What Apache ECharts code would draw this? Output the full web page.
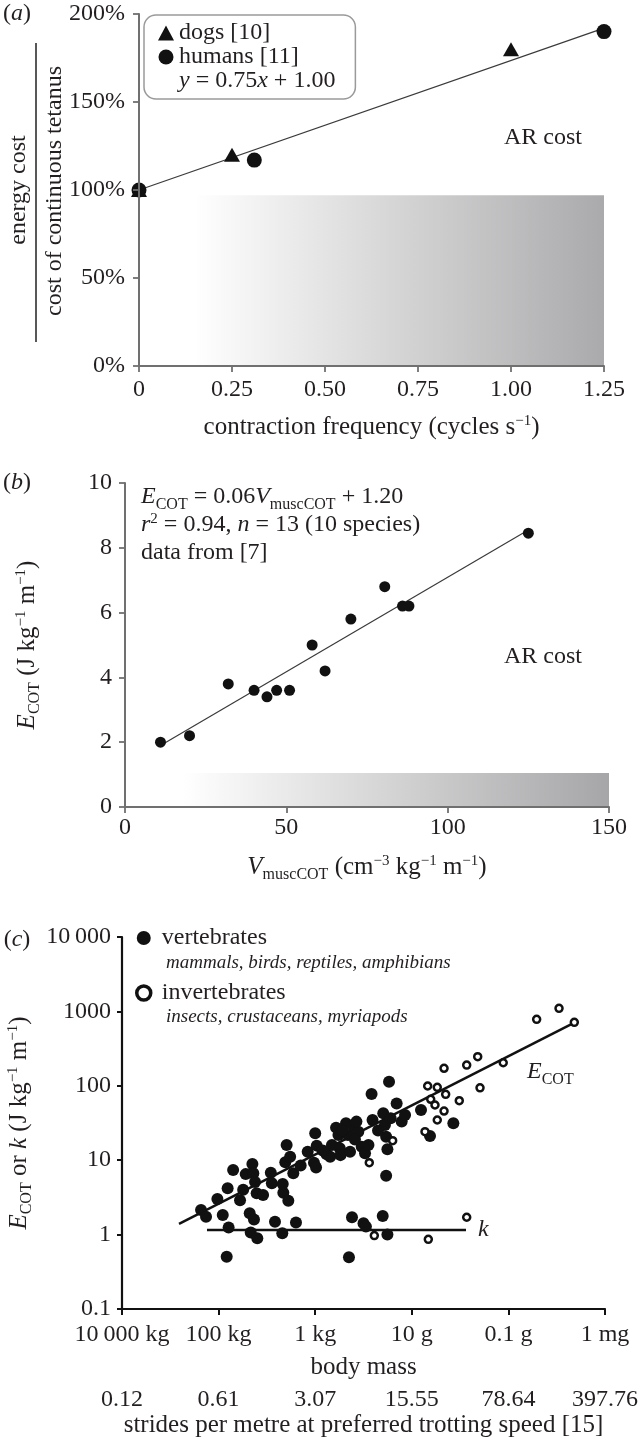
<!DOCTYPE html>
<html><head><meta charset="utf-8">
<script src="https://cdn.jsdelivr.net/npm/echarts@6/dist/echarts.min.js"></script>
<style>html,body{margin:0;padding:0;background:#fff}#chart{width:642px;height:1445px}</style>
</head><body><div id="chart"></div>
<script>
const FONT = 'Liberation Serif';
const INK = '#231f20';

// ---------- Panel (a) ----------
const aXTicks = ['0', '0.25', '0.50', '0.75', '1.00', '1.25'];
const aYTicks = ['0%', '50%', '100%', '150%', '200%'];
const aDogs = [[0, 100], [0.25, 120], [1.00, 180]];
const aHumans = [[0, 100], [0.31, 117], [1.25, 190]];
const aFit = [[0, 100], [1.25, 192]];
const aCrossBridge = [[0, 0, 1.25, 97]];

// ---------- Panel (b) ----------
const bXTicks = ['0', '50', '100', '150'];
const bYTicks = ['0', '2', '4', '6', '8', '10'];
const bPoints = [[11, 2.0], [20, 2.2], [32, 3.8], [40, 3.6], [44, 3.4], [47, 3.6], [51, 3.6],
  [58, 5.0], [62, 4.2], [70, 5.8], [80.5, 6.8], [86, 6.2], [88, 6.2], [125, 8.45]];
const bFit = [[11, 1.9], [125, 8.55]];
const bCrossBridge = [[0, 0, 150, 1.05]];

// ---------- Panel (c) ----------  [body mass (kg), E_COT or k (J kg-1 m-1)]
const cMassTicks = ['10\u2009000 kg', '100 kg', '1 kg', '10 g', '0.1 g', '1 mg'];
const cStrideTicks = ['0.12', '0.61', '3.07', '15.55', '78.64', '397.76'];
const cYTicks = ['0.1', '1', '10', '100', '1000', '10\u2009000'];
const cVertebrates = [
  [231, 2.14], [182, 1.74], [106, 3.0], [82, 1.83], [65, 4.2], [62, 1.25], [50, 7.4], [36, 2.9],
  [27.5, 6.5], [31, 4.0], [22.7, 1.93], [18.5, 1.6], [20, 8.9], [19.1, 6.7], [17.6, 5.1], [16.3, 3.6],
  [21.6, 1.07], [15.8, 0.89], [8.3, 6.8], [7.9, 4.9], [6.8, 1.49], [4.7, 4.8], [4.57, 3.66], [3.6, 2.86],
  [4.8, 1.04], [3.9, 16], [4.16, 9.4], [3.3, 11.1], [2.84, 6.7], [2.5, 1.45], [1.43, 13], [1.0, 23],
  [0.93, 15.7], [1.06, 9.25], [0.96, 8.0], [0.58, 12], [0.49, 11.1], [0.37, 27.4], [0.33, 21.8],
  [0.31, 14.5], [0.30, 11.7], [0.23, 31.3], [0.21, 21.8], [0.19, 13], [0.163, 28.8], [0.128, 24.2],
  [0.109, 15.2], [0.093, 12.4], [0.079, 16], [0.173, 1.71], [0.10, 1.42], [0.089, 1.28], [0.068, 77.6],
  [0.065, 34.7], [0.039, 42.7], [0.036, 29.7], [0.034, 20.7], [0.032, 14], [0.034, 6.2], [0.0296, 113],
  [0.0274, 36.6], [0.04, 1.78], [0.032, 1.0], [0.0206, 58], [0.0162, 33], [0.0138, 40.5],
  [0.00645, 47.3], [0.0042, 21.1], [0.00138, 31.3], [68, 0.505], [0.2, 0.495],
  [0.27, 25], [0.15, 19], [0.45, 16], [0.7, 13.5], [2.0, 8.5], [12, 3.4], [0.05, 25], [0.14, 33]
];
const cInvertebrates = [
  [0.0759, 9.25], [0.0249, 18.3], [0.0597, 0.97], [0.00455, 0.865], [0.00533, 24.2], [0.00469, 99.4],
  [0.00297, 95.5], [0.00406, 65.9], [0.00331, 55.2], [0.00199, 76.9], [0.00215, 45.8], [0.00297, 34.7],
  [0.00104, 63], [0.00215, 172], [0.00073, 190], [0.000432, 246], [0.000387, 94], [0.000128, 204],
  [0.000026, 783], [0.00000895, 1101], [0.00000432, 713], [0.00073, 1.71]
];
const cEcotFit = [[660, 1.39], [0.0000042, 713]];
const cKFit = [[174, 1.15], [0.000755, 1.15]];

// ---------- helpers ----------
function richStyles(colorKey, base) {
  const c = {}; c[colorKey] = INK;
  return {
    i: Object.assign({fontSize: base, fontFamily: FONT, fontStyle: 'italic'}, c),
    sub: Object.assign({fontSize: 16, fontFamily: FONT, padding: [16, 0, 0, 0]}, c),
    sup: Object.assign({fontSize: 15, fontFamily: FONT, padding: [0, 0, 12, 0]}, c),
    it: Object.assign({fontSize: 19, fontFamily: FONT, fontStyle: 'italic'}, c)
  };
}
const RICH = richStyles('color', 24);
const TRICH = richStyles('color', 25);
const GRICH = richStyles('fill', 24);
const titleStyle = {fontSize: 25, fontFamily: FONT, color: INK, rich: TRICH};
const AXIS_GREY = '#707070';

function gText(x, y, text, align, extra) {
  return Object.assign({
    type: 'text', x: x, y: y, silent: true,
    style: {text: text, fill: INK, fontSize: 24, fontFamily: FONT,
      align: align || 'left', verticalAlign: 'middle', rich: GRICH}
  }, extra || {});
}
function gradientRect(stops) {
  return function (params, api) {
    const p0 = api.coord([api.value(0), api.value(1)]);
    const p1 = api.coord([api.value(2), api.value(3)]);
    return {
      type: 'rect',
      shape: {x: p0[0], y: p1[1], width: p1[0] - p0[0], height: p0[1] - p1[1]},
      style: {fill: new echarts.graphic.LinearGradient(0, 0, 1, 0, stops)}
    };
  };
}
function valueAxis(grid, min, max, interval, ticks, color, margin, extra) {
  return Object.assign({
    gridIndex: grid, type: 'value', min: min, max: max, interval: interval,
    axisLine: {show: true, onZero: false, lineStyle: {color: color, width: 2}},
    axisTick: {show: true, length: 6, lineStyle: {color: color, width: 1.8}},
    splitLine: {show: false},
    axisLabel: {fontSize: 24, fontFamily: FONT, color: INK, margin: margin,
      formatter: function (v) { return ticks[Math.round((v - min) / interval)]; }},
    nameLocation: 'middle', nameTextStyle: titleStyle, z: 5
  }, extra);
}
function logIndex(v, base, top) { return Math.round((top - Math.log10(v)) / base); }

const chart = echarts.init(document.getElementById('chart'), null, {renderer: 'canvas'});
chart.setOption({
  animation: false,
  backgroundColor: '#fff',
  textStyle: {fontFamily: FONT},
  grid: [
    {left: 139, top: 14, width: 465, height: 352, outerBoundsMode: 'none'},
    {left: 125, top: 483, width: 484, height: 324, outerBoundsMode: 'none'},
    {left: 122, top: 937, width: 483, height: 372, outerBoundsMode: 'none'}
  ],
  legend: [
    {
      data: [{name: 'dogs [10]', icon: 'triangle'}, {name: 'humans [11]', icon: 'circle'},
        {name: 'aFit', icon: 'rect', itemStyle: {opacity: 0}}],
      orient: 'vertical', left: 144, top: 15, padding: [6, 20, 6, 14], itemGap: 0,
      itemWidth: 16, itemHeight: 15, borderColor: '#9a9a9a', borderWidth: 1.5, borderRadius: 12,
      selectedMode: false,
      textStyle: {fontSize: 24, fontFamily: FONT, color: INK, rich: RICH},
      formatter: function (name) { return name === 'aFit' ? '{i|y} = 0.75{i|x} + 1.00' : name; }
    },
    {
      data: [{name: 'vertebrates', icon: 'circle'},
        {name: 'invertebrates', icon: 'circle', itemStyle: {borderWidth: 3.5}}],
      orient: 'vertical', left: 135, top: 926, padding: 0, itemGap: 31,
      itemWidth: 26, itemHeight: 14, selectedMode: false,
      textStyle: {fontSize: 24, fontFamily: FONT, color: INK}
    }
  ],
  xAxis: [
    valueAxis(0, 0, 1.25, 0.25, aXTicks, AXIS_GREY, 12, {
      name: 'contraction frequency (cycles s{sup|\u22121})', nameGap: 48}),
    valueAxis(1, 0, 150, 50, bXTicks, AXIS_GREY, 9, {
      name: '{i|V}{sub|muscCOT} (cm{sup|\u22123} kg{sup|\u22121} m{sup|\u22121})', nameGap: 44}),
    {
      gridIndex: 2, type: 'log', logBase: 100, min: 1e-6, max: 1e4, inverse: true,
      axisLine: {show: true, onZero: false, lineStyle: {color: '#111', width: 2.2}},
      axisTick: {show: true, length: 6, lineStyle: {color: '#111', width: 2}},
      splitLine: {show: false}, minorTick: {show: false},
      axisLabel: {fontSize: 24, fontFamily: FONT, color: INK, margin: 14,
        formatter: function (v) { return cMassTicks[logIndex(v, 2, 4)]; }},
      name: 'body mass', nameLocation: 'middle', nameGap: 46, nameTextStyle: titleStyle
    },
    {
      gridIndex: 2, type: 'log', logBase: 100, min: 1e-6, max: 1e4, inverse: true,
      position: 'bottom', offset: 65,
      axisLine: {show: false}, axisTick: {show: false}, splitLine: {show: false},
      axisLabel: {fontSize: 24, fontFamily: FONT, color: INK, margin: 14,
        formatter: function (v) { return cStrideTicks[logIndex(v, 2, 4)]; }},
      name: 'strides per metre at preferred trotting speed [15]', nameLocation: 'middle',
      nameGap: 39, nameTextStyle: titleStyle
    }
  ],
  yAxis: [
    valueAxis(0, 0, 200, 50, aYTicks, AXIS_GREY, 14, {}),
    valueAxis(1, 0, 10, 2, bYTicks, AXIS_GREY, 13, {
      name: '{i|E}{sub|COT} (J kg{sup|\u22121} m{sup|\u22121})', nameRotate: 90, nameGap: 82}),
    {
      gridIndex: 2, type: 'log', logBase: 10, min: 0.1, max: 10000,
      axisLine: {show: true, onZero: false, lineStyle: {color: '#111', width: 2.2}},
      axisTick: {show: true, length: 5, lineStyle: {color: '#111', width: 2}},
      splitLine: {show: false}, minorTick: {show: false},
      axisLabel: {fontSize: 24, fontFamily: FONT, color: INK, margin: 11,
        formatter: function (v) { return cYTicks[Math.round(Math.log10(v)) + 1]; }},
      name: '{i|E}{sub|COT} or {i|k} (J kg{sup|\u22121} m{sup|\u22121})', nameLocation: 'middle',
      nameRotate: 90, nameGap: 75, nameTextStyle: titleStyle
    }
  ],
  series: [
    {type: 'custom', xAxisIndex: 0, yAxisIndex: 0, data: aCrossBridge, z: 1, silent: true,
      encode: {x: [0, 2], y: [1, 3]},
      renderItem: gradientRect([{offset: 0, color: '#ffffff'}, {offset: 0.12, color: '#ffffff'},
        {offset: 1, color: '#aaaaac'}])},
    {name: 'aFit', type: 'line', xAxisIndex: 0, yAxisIndex: 0, data: aFit, symbol: 'none', z: 2,
      lineStyle: {color: '#3a3a3a', width: 1.2}, silent: true},
    {name: 'dogs [10]', type: 'scatter', xAxisIndex: 0, yAxisIndex: 0, data: aDogs, z: 4, clip: false,
      symbol: 'triangle', symbolSize: [16, 14], itemStyle: {color: '#111', opacity: 1}},
    {name: 'humans [11]', type: 'scatter', xAxisIndex: 0, yAxisIndex: 0, data: aHumans, z: 3, clip: false,
      symbol: 'circle', symbolSize: 15, itemStyle: {color: '#111', opacity: 1}},

    {type: 'custom', xAxisIndex: 1, yAxisIndex: 1, data: bCrossBridge, z: 1, silent: true,
      encode: {x: [0, 2], y: [1, 3]},
      renderItem: gradientRect([{offset: 0, color: '#ffffff'}, {offset: 0.12, color: '#ffffff'},
        {offset: 1, color: '#a6a6a8'}])},
    {name: 'bFit', type: 'line', xAxisIndex: 1, yAxisIndex: 1, data: bFit, symbol: 'none', z: 2,
      lineStyle: {color: '#3a3a3a', width: 1.2}, silent: true},
    {name: 'bPoints', type: 'scatter', xAxisIndex: 1, yAxisIndex: 1, data: bPoints, z: 3, clip: false,
      symbol: 'circle', symbolSize: 11, itemStyle: {color: '#111', opacity: 1}},

    {name: 'cEcotFit', type: 'line', xAxisIndex: 2, yAxisIndex: 2, data: cEcotFit, symbol: 'none', z: 2,
      lineStyle: {color: '#111', width: 2.5}, silent: true},
    {name: 'cKFit', type: 'line', xAxisIndex: 2, yAxisIndex: 2, data: cKFit, symbol: 'none', z: 2,
      lineStyle: {color: '#111', width: 2.5}, silent: true},
    {name: 'vertebrates', type: 'scatter', xAxisIndex: 2, yAxisIndex: 2, data: cVertebrates, z: 3,
      symbol: 'circle', symbolSize: 12, itemStyle: {color: '#111', opacity: 1}},
    {name: 'invertebrates', type: 'scatter', xAxisIndex: 2, yAxisIndex: 2, data: cInvertebrates, z: 4,
      symbol: 'circle', symbolSize: 7,
      itemStyle: {color: '#fff', borderColor: '#111', borderWidth: 2.5, opacity: 1}}
  ],
  graphic: [
    gText(17, 14, '({i|a})', 'center'),
    gText(17, 483, '({i|b})', 'center'),
    gText(17, 940, '({i|c})', 'center'),
    gText(19, 190, 'energy cost', 'center', {rotation: Math.PI / 2}),
    {type: 'line', silent: true, shape: {x1: 36, y1: 43, x2: 36, y2: 342},
      style: {stroke: INK, lineWidth: 1.5}},
    gText(55, 191, 'cost of continuous tetanus', 'center', {rotation: Math.PI / 2}),
    gText(543, 138, 'AR cost', 'center'),
    gText(492, 281, 'cross-bridge cost', 'center'),
    gText(141, 497, '{i|E}{sub|COT} = 0.06{i|V}{sub|muscCOT} + 1.20'),
    gText(141, 525, '{i|r}{sup|2} = 0.94, {i|n} = 13 (10 species)'),
    gText(141, 553, 'data from [7]'),
    gText(543, 657, 'AR cost', 'center'),
    gText(592, 789, 'cross-bridge cost', 'right'),
    gText(166, 963, '{it|mammals, birds, reptiles, amphibians}'),
    gText(166, 1017, '{it|insects, crustaceans, myriapods}'),
    gText(527, 1072, '{i|E}{sub|COT}'),
    gText(478, 1230, '{i|k}')
  ]
});
</script>
</body></html>
